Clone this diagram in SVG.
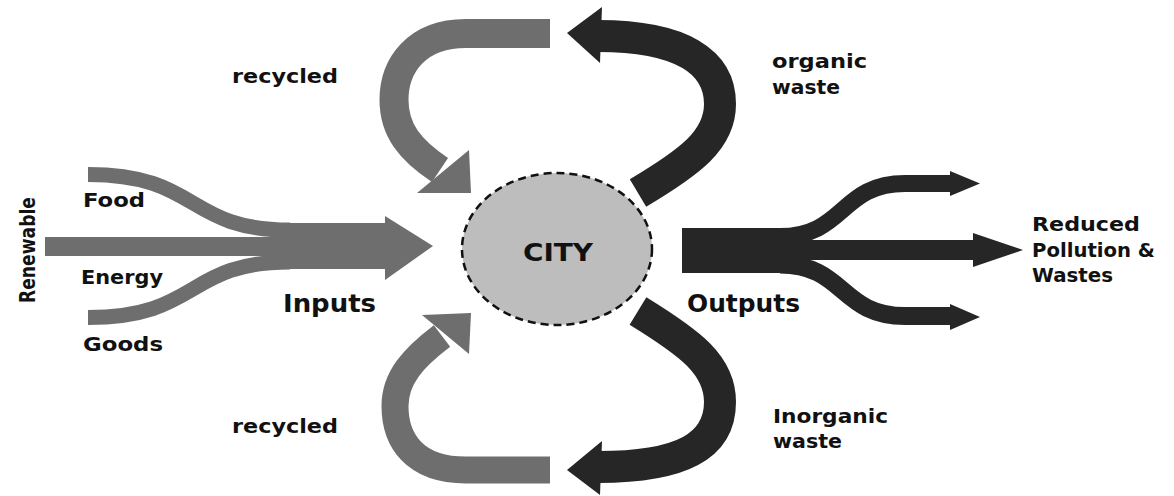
<svg xmlns="http://www.w3.org/2000/svg" width="1174" height="496" viewBox="0 0 1174 496">
<style>
  text { font-family: "DejaVu Sans", "Liberation Sans", sans-serif; font-weight: bold; fill: #111; }
  .lbl { font-size: 19px; }
  .big { font-size: 24px; }
  .in { fill: none; stroke: #6e6e6e; stroke-linecap: butt; }
  .inf { fill: #6e6e6e; }
  .out { fill: none; stroke: #262626; stroke-linecap: butt; }
  .outf { fill: #262626; }
</style>
<rect width="1174" height="496" fill="#ffffff"/>
<g id="connectors">
  <g id="inputs-arrow">
    <path class="in" d="M88,174.5 C200,174.5 185,230 290,230" stroke-width="15"/>
    <path class="in" d="M88,317.5 C200,317.5 185,262 290,262" stroke-width="15"/>
    <rect class="inf" x="45" y="237" width="250" height="19"/>
    <rect class="inf" x="280" y="223" width="108" height="46"/>
    <polygon class="inf" points="385,216 433,246 385,280"/>
  </g>
  <g id="recycled-top-arrow">
    <path class="in" d="M550,33.5 L466,33.5 C416,33.5 394,66 394,100 C394,130 410,150 440,170" stroke-width="29"/>
    <polygon class="inf" points="417,193 471,193 469,150"/>
  </g>
  <g id="organic-waste-arrow">
    <path class="out" d="M598,36 C682,36 720,62 720,104 C720,140 690,162 638,193" stroke-width="32"/>
    <polygon class="outf" points="567,33 602,7 600,63"/>
  </g>
  <g id="recycled-bottom-arrow">
    <path class="in" d="M550,470 L466,470 C414,470 395,440 395,406 C395,378 413,358 442,336" stroke-width="27"/>
    <polygon class="inf" points="422,315 471,313 469,354"/>
  </g>
  <g id="inorganic-waste-arrow">
    <path class="out" d="M638,311 C690,343 720,365 720,402 C720,446 682,467 598,467" stroke-width="32"/>
    <polygon class="outf" points="567,470 602,441 600,495"/>
  </g>
  <g id="outputs-arrow">
    <rect class="outf" x="682" y="228" width="108" height="45"/>
    <path class="out" d="M780,236.5 C845,236.5 840,183.5 905,183.5 L952,183.5" stroke-width="17"/>
    <path class="out" d="M780,264.5 C845,264.5 840,316 905,316 L952,316" stroke-width="18"/>
    <rect class="outf" x="785" y="240" width="190" height="20"/>
    <polygon class="outf" points="950,171 980,183.5 950,196"/>
    <polygon class="outf" points="950,304 980,317 950,330"/>
    <polygon class="outf" points="973,233 1023,250 973,267"/>
  </g>
</g>
<g id="city">
  <ellipse cx="557" cy="249" rx="95" ry="76" fill="#bdbdbd" stroke="#111" stroke-width="2.5" stroke-dasharray="8,5"/>
  <text class="big" x="523" y="261" textLength="70" lengthAdjust="spacingAndGlyphs">CITY</text>
</g>
<g id="labels">
  <text class="lbl" x="83" y="207" textLength="62" lengthAdjust="spacingAndGlyphs">Food</text>
  <text class="lbl" x="81" y="284" textLength="82" lengthAdjust="spacingAndGlyphs">Energy</text>
  <text class="lbl" x="83" y="351" textLength="80" lengthAdjust="spacingAndGlyphs">Goods</text>
  <text class="lbl" style="font-size:22px" transform="translate(35,303) rotate(-90)" x="0" y="0" textLength="106" lengthAdjust="spacingAndGlyphs">Renewable</text>
  <text class="big" x="283" y="312" textLength="93" lengthAdjust="spacingAndGlyphs">Inputs</text>
  <text class="big" x="687" y="312" textLength="113" lengthAdjust="spacingAndGlyphs">Outputs</text>
  <text class="lbl" x="232" y="83" textLength="106" lengthAdjust="spacingAndGlyphs">recycled</text>
  <text class="lbl" x="232" y="433" textLength="106" lengthAdjust="spacingAndGlyphs">recycled</text>
  <text class="lbl" x="772" y="68" textLength="95" lengthAdjust="spacingAndGlyphs">organic</text>
  <text class="lbl" x="772" y="94" textLength="68" lengthAdjust="spacingAndGlyphs">waste</text>
  <text class="lbl" x="773" y="423" textLength="115" lengthAdjust="spacingAndGlyphs">Inorganic</text>
  <text class="lbl" x="773" y="448" textLength="69" lengthAdjust="spacingAndGlyphs">waste</text>
  <text class="lbl" x="1032" y="231" textLength="108" lengthAdjust="spacingAndGlyphs">Reduced</text>
  <text class="lbl" x="1032" y="257" textLength="123" lengthAdjust="spacingAndGlyphs">Pollution &amp;</text>
  <text class="lbl" x="1032" y="282" textLength="81" lengthAdjust="spacingAndGlyphs">Wastes</text>
</g>
</svg>
